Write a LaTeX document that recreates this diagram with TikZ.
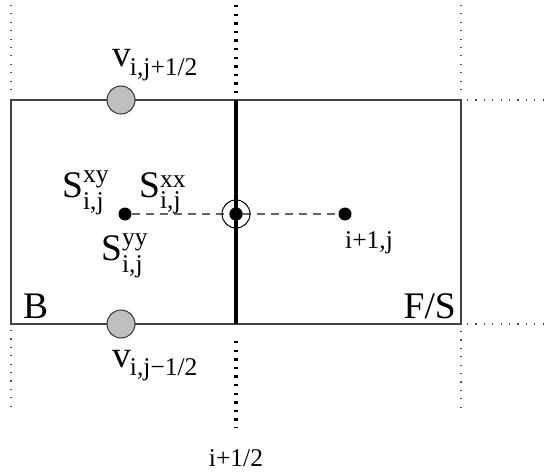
\documentclass[tikz,border=0pt]{standalone}
\usepackage{amsmath}
\usepackage{fontspec}
\setmainfont{Liberation Serif}
\DeclareMathSizes{37.5}{37.5}{25.5}{18}
\begin{document}
\begin{tikzpicture}[x=1pt,y=-1pt,
  cellline/.style={draw=black!75,line width=1.3pt},
  facethick/.style={line width=4pt},
  facedots/.style={line width=4pt,dash pattern=on 2.4pt off 6.2pt},
  thindots/.style={line width=1.1pt,black!70,dash pattern=on 1.1pt off 7.3pt},
  link/.style={draw=black!60,line width=1.3pt,dash pattern=on 8pt off 6pt},
  vel/.style={circle,draw=black!80,line width=1pt,fill=black!25,minimum size=28pt,inner sep=0pt},
  pt/.style={circle,fill=black,minimum size=13pt,inner sep=0pt},
  ring/.style={circle,draw=black,line width=1pt,minimum size=28pt,inner sep=0pt},
  big/.style={inner sep=0pt,font=\fontsize{37.5}{42}\selectfont},
  small/.style={inner sep=0pt,font=\fontsize{25.5}{30}\selectfont}]
\useasboundingbox (0,0) rectangle (548,473);
% cell corners
\coordinate (tl) at (11,100);
\coordinate (br) at (461,324);
\coordinate (ft) at (236,100);
\coordinate (fb) at (236,324);
% dotted continuation ends
\coordinate (lt1) at (11,5);  \coordinate (lt2) at (11,94);
\coordinate (lb1) at (11,330); \coordinate (lb2) at (11,413);
\coordinate (rt1) at (461,5);  \coordinate (rt2) at (461,94);
\coordinate (rb1) at (461,331); \coordinate (rb2) at (461,414);
\coordinate (ct1) at (236,5);  \coordinate (ct2) at (236,94);
\coordinate (cb1) at (236,341); \coordinate (cb2) at (236,428);
\coordinate (ht1) at (467,100); \coordinate (ht2) at (548,100);
\coordinate (hb1) at (467,324); \coordinate (hb2) at (548,324);
% dotted lines
\draw[thindots] (lt1) -- (lt2);
\draw[thindots] (lb1) -- (lb2);
\draw[thindots] (rt1) -- (rt2);
\draw[thindots] (rb1) -- (rb2);
\draw[thindots] (ht1) -- (ht2);
\draw[thindots] (hb1) -- (hb2);
\draw[facedots] (ct1) -- (ct2);
\draw[facedots] (cb1) -- (cb2);
% cell
\draw[cellline] (tl) rectangle (br);
\draw[facethick] (ft) -- (fb);
% points
\node[pt] (pij) at (125,214) {};
\node[pt] (pface) at (236,214) {};
\node[pt] (pnext) at (345,214) {};
\draw[link] (pij) -- (pface) -- (pnext);
\node[pt] (pface2) at (236,214) {};
\node[ring] (ringc) at (236,214) {};
\node[vel] (vtop) at (121,100) {};
\node[vel] (vbot) at (121,324) {};
% labels
\node[big,anchor=base west] (lvt) at (112,67) {v\kern-1pt$_{\text{i,j+1/2}}$};
\node[big,anchor=base west] (lvb) at (112,367) {v\kern-1pt$_{\text{i,j−1/2}}$};
\node[big,anchor=base west] (lsxy) at (62,197) {S$^{\text{xy}}_{\text{i,j}}$};
\node[big,anchor=base west] (lsxx) at (139,197) {S$^{\text{xx}}_{\text{i,j}}$};
\node[big,anchor=base west] (lsyy) at (101,260) {S$^{\text{yy}}_{\text{i,j}}$};
\node[small,anchor=base west] (lnext) at (345,248) {i+1,j};
\node[small,anchor=base] (lface) at (236,466) {i+1/2};
\node[big,anchor=base west] (lB) at (23,318) {B};
\node[big,anchor=base east] (lFS) at (456,318) {F/S};
\end{tikzpicture}
\end{document}
